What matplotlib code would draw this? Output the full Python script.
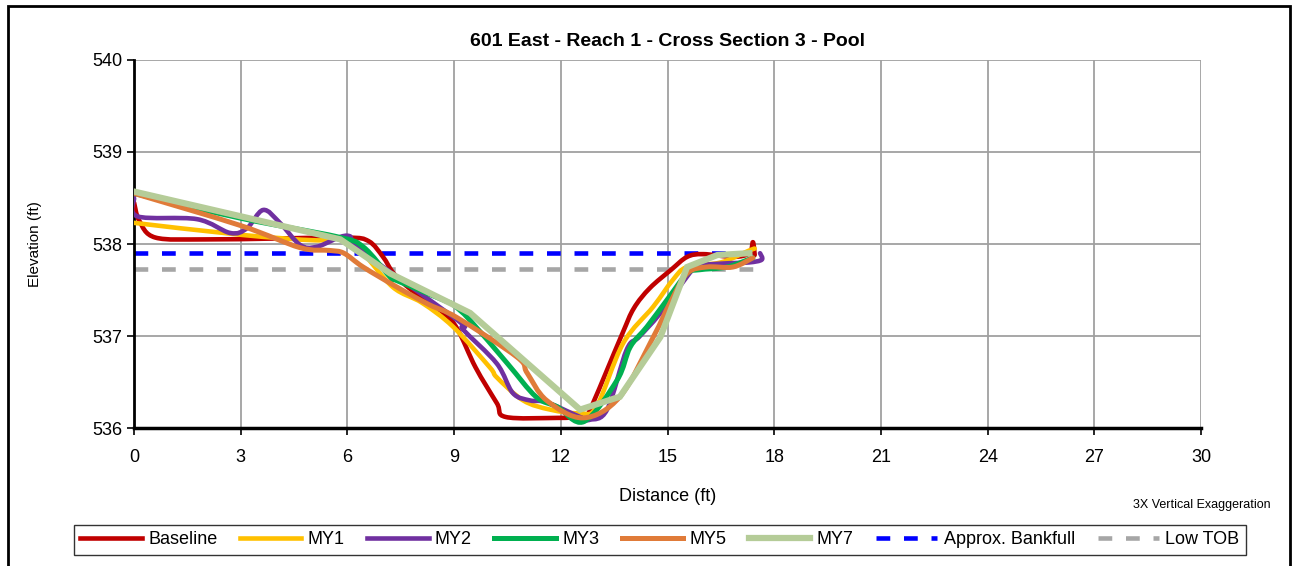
import matplotlib.pyplot as plt
from matplotlib.patches import Rectangle, PathPatch
from matplotlib.path import Path
from matplotlib.lines import Line2D

plt.rcParams['font.family'] = ['Liberation Sans', 'DejaVu Sans']

# survey data (distance ft, elevation ft)
base_x = [0, 0.15, 0.6, 2, 4, 6.0, 6.6, 7.0, 7.3, 7.8, 8.7, 9.1, 9.6, 10.2, 10.45, 11.9,
          12.55, 12.75, 13.7, 14.05, 14.5, 15.1, 15.55, 16.0, 16.85, 17.3, 17.4, 17.45]
base_y = [538.45, 538.25, 538.07, 538.05, 538.06, 538.07, 538.03, 537.86, 537.68, 537.5,
          537.25, 537.07, 536.66, 536.27, 536.12, 536.11, 536.12, 536.14, 537.0, 537.3,
          537.52, 537.72, 537.86, 537.89, 537.86, 537.9, 538.02, 537.88]

my1_x = [0, 3.0, 5.1, 5.9, 6.44, 7.28, 8.1, 8.97, 10.0, 10.2, 10.94, 11.7, 12.54, 13.0,
         13.75, 14.6, 15.15, 15.55, 16.5, 17.3, 17.45]
my1_y = [538.23, 538.1, 538.04, 538.06, 537.9, 537.53, 537.36, 537.1, 536.66, 536.55,
         536.3, 536.2, 536.16, 536.23, 536.92, 537.32, 537.61, 537.75, 537.8, 537.93, 537.95]

my2_x = [0, 0.1, 1.77, 2.7, 3.17, 3.63, 4.1, 4.67, 5.14, 6.0, 6.44, 9.1, 9.25, 10.2, 10.65,
         11.13, 11.6, 12.54, 12.82, 13.3, 13.85, 14.2, 14.8, 15.7, 16.0, 16.67, 17.3, 17.65, 17.6]
my2_y = [538.5, 538.3, 538.27, 538.12, 538.17, 538.37, 538.23, 537.99, 537.97, 538.09,
         537.91, 537.17, 537.07, 536.7, 536.38, 536.3, 536.28, 536.12, 536.09, 536.2,
         536.85, 536.99, 537.25, 537.72, 537.77, 537.79, 537.8, 537.83, 537.9]

my3_x = [0, 3.0, 5.7, 6.44, 7.2, 7.4, 8.7, 8.97, 9.45, 10.5, 11.3, 11.9, 12.65, 13.58,
         13.95, 14.42, 14.98, 15.55, 15.9, 16.67, 17.4]
my3_y = [538.55, 538.28, 538.08, 537.97, 537.64, 537.6, 537.39, 537.34, 537.17, 536.7,
         536.34, 536.23, 536.07, 536.52, 536.88, 537.1, 537.39, 537.68, 537.72, 537.75, 537.85]

my5_x = [0, 3.0, 4.67, 5.5, 5.9, 6.44, 7.4, 8.3, 9.08, 10.77, 11.05, 11.6, 12.63, 13.66,
         14.6, 15.07, 15.55, 16.1, 16.84, 17.4]
my5_y = [538.55, 538.2, 537.96, 537.93, 537.9, 537.75, 537.53, 537.34, 537.2, 536.77,
         536.6, 536.3, 536.11, 536.34, 536.99, 537.36, 537.68, 537.75, 537.75, 537.85]

my7_x = [0, 5.8, 7.2, 9.45, 12.54, 13.66, 14.8, 15.55, 16.4, 17.3]
my7_y = [538.57, 538.05, 537.68, 537.25, 536.2, 536.34, 536.99, 537.75, 537.88, 537.9]

bankfull = 537.9
low_tob = 537.73
line_end = 17.7


def smooth_path(xs, ys):
    # Catmull-Rom style bezier through the points (like Excel "smoothed line")
    verts = [(xs[0], ys[0])]
    codes = [Path.MOVETO]
    n = len(xs)
    for i in range(n - 1):
        x0, y0 = (xs[i - 1], ys[i - 1]) if i > 0 else (xs[i], ys[i])
        x1, y1 = xs[i], ys[i]
        x2, y2 = xs[i + 1], ys[i + 1]
        x3, y3 = (xs[i + 2], ys[i + 2]) if i + 2 < n else (x2, y2)
        c1 = (x1 + (x2 - x0) / 6, y1 + (y2 - y0) / 6)
        c2 = (x2 - (x3 - x1) / 6, y2 - (y3 - y1) / 6)
        verts += [c1, c2, (x2, y2)]
        codes += [Path.CURVE4] * 3
    return Path(verts, codes)


fig = plt.figure(figsize=(12.99, 5.66), dpi=100)
ax = fig.add_axes([0.1032, 0.2438, 0.8214, 0.6502])

series = [
    (base_x, base_y, '#c00000', 3.3, 'Baseline'),
    (my1_x, my1_y, '#ffc000', 3.3, 'MY1'),
    (my2_x, my2_y, '#7030a0', 3.3, 'MY2'),
    (my3_x, my3_y, '#00b050', 3.6, 'MY3'),
    (my5_x, my5_y, '#e07b39', 3.6, 'MY5'),
]
handles = []
for xs, ys, col, lw, lab in series:
    ax.add_patch(PathPatch(smooth_path(xs, ys), facecolor='none', edgecolor=col, lw=lw,
                           capstyle='round', joinstyle='round', zorder=3))
    handles.append(Line2D([], [], color=col, lw=lw, label=lab))

# MY7 is drawn with straight segments
h, = ax.plot(my7_x, my7_y, color='#b5cc98', lw=4.5, label='MY7', zorder=3,
             solid_joinstyle='miter')
handles.append(h)

h, = ax.plot([0, line_end], [bankfull, bankfull], color='#0000ff', lw=3.3, ls=(0, (3, 3)),
             label='Approx. Bankfull', zorder=2)
handles.append(h)
h, = ax.plot([0, line_end], [low_tob, low_tob], color='#a6a6a6', lw=3.3, ls=(0, (3, 3)),
             label='Low TOB', zorder=2)
handles.append(h)

ax.set_xlim(0, 30)
ax.set_ylim(536, 540)
ax.set_xticks(range(0, 31, 3))
ax.set_yticks([536, 537, 538, 539, 540])
ax.grid(True, color='#a0a0a0', lw=1.3)
ax.set_axisbelow(True)
for s in ['top', 'right']:
    ax.spines[s].set_visible(False)
ax.spines['left'].set_linewidth(2)
ax.spines['bottom'].set_linewidth(2.5)
ax.tick_params(labelsize=13, direction='out', length=5, width=1.2)
ax.tick_params(axis='x', pad=10)
ax.set_xlabel('Distance (ft)', fontsize=13, labelpad=16)
ax.set_ylabel('Elevation (ft)', fontsize=11, labelpad=36)
ax.set_title('601 East - Reach 1 - Cross Section 3 - Pool', fontsize=14, fontweight='bold', pad=10)

fig.text(0.978, 0.108, '3X Vertical Exaggeration', fontsize=9, ha='right', va='center')

leg = fig.legend(handles=handles, loc='center', bbox_to_anchor=(0.508, 0.046), ncol=8,
                 fontsize=13, frameon=True, fancybox=False, edgecolor='black',
                 handlelength=3.4, columnspacing=1.25, handletextpad=0.35, borderpad=0.35)
leg.get_frame().set_linewidth(1)

fig.patches.append(Rectangle((0.006, -0.01), 0.987, 1.0, transform=fig.transFigure,
                             fill=False, edgecolor='black', lw=2))

fig.savefig('out.png', dpi=100)
